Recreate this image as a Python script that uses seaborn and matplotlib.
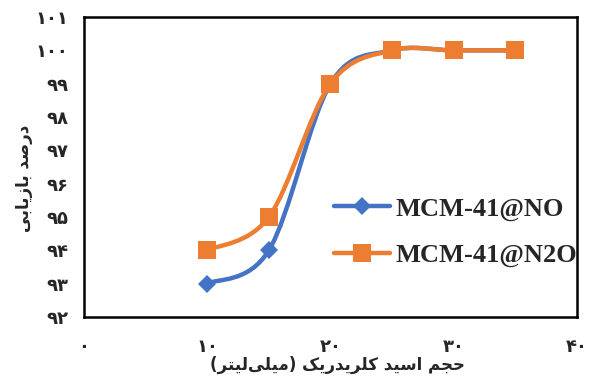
import numpy as np
import pandas as pd
import matplotlib
matplotlib.use("Agg")
import matplotlib.pyplot as plt
from matplotlib.path import Path
from matplotlib.patches import PathPatch
from matplotlib.lines import Line2D
import seaborn as sns

# ---- data -------------------------------------------------------------
volume = [10, 15, 20, 25, 30, 35]
recovery_no = [93, 94, 99, 100, 100, 100]
recovery_n2o = [94, 95, 99, 100, 100, 100]
series_names = ["MCM-41@NO", "MCM-41@N2O"]
x_ticks = [0, 10, 20, 30, 40]
y_ticks = [92, 93, 94, 95, 96, 97, 98, 99, 100, 101]
x_label = "حجم اسید کلریدریک (میلی‌لیتر)"
y_label = "درصد بازیابی"

colors = ["#4472C4", "#ED7D31"]

# ---- minimal Persian shaping (matplotlib has no RTL / joining support) --
FORMS = {  # isolated, final, initial, medial
    "ا": ("\uFE8D", "\uFE8E", None, None),
    "د": ("\uFEA9", "\uFEAA", None, None),
    "ر": ("\uFEAD", "\uFEAE", None, None),
    "ز": ("\uFEAF", "\uFEB0", None, None),
    "ب": ("\uFE8F", "\uFE90", "\uFE91", "\uFE92"),
    "ت": ("\uFE95", "\uFE96", "\uFE97", "\uFE98"),
    "ج": ("\uFE9D", "\uFE9E", "\uFE9F", "\uFEA0"),
    "ح": ("\uFEA1", "\uFEA2", "\uFEA3", "\uFEA4"),
    "س": ("\uFEB1", "\uFEB2", "\uFEB3", "\uFEB4"),
    "ص": ("\uFEB9", "\uFEBA", "\uFEBB", "\uFEBC"),
    "ل": ("\uFEDD", "\uFEDE", "\uFEDF", "\uFEE0"),
    "م": ("\uFEE1", "\uFEE2", "\uFEE3", "\uFEE4"),
    "ی": ("\uFBFC", "\uFBFD", "\uFBFE", "\uFBFF"),
    "ک": ("\uFB8E", "\uFB8F", "\uFB90", "\uFB91"),
}
MIRROR = {"(": ")", ")": "("}


def shape_fa(text):
    out = []
    n = len(text)
    for i, ch in enumerate(text):
        if ch not in FORMS:
            if ch != "\u200c":
                out.append(ch)
            continue
        iso, fin, ini, med = FORMS[ch]
        prev = text[i - 1] if i > 0 else ""
        nxt = text[i + 1] if i < n - 1 else ""
        join_prev = prev in FORMS and FORMS[prev][2] is not None
        join_next = ini is not None and nxt in FORMS
        if join_prev and join_next:
            out.append(med)
        elif join_prev:
            out.append(fin)
        elif join_next:
            out.append(ini)
        else:
            out.append(iso)
    return "".join(MIRROR.get(c, c) for c in reversed(out))


FA_DIGITS = str.maketrans("0123456789", "۰۱۲۳۴۵۶۷۸۹")


def fa_num(v):
    return str(v).translate(FA_DIGITS)


# ---- smooth curve (Catmull-Rom as cubic Bezier) -------------------------
def smooth_path(xs, ys):
    pts = np.column_stack([xs, ys]).astype(float)
    verts = [pts[0]]
    codes = [Path.MOVETO]
    for i in range(len(pts) - 1):
        p0 = pts[i - 1] if i > 0 else pts[i]
        p1, p2 = pts[i], pts[i + 1]
        p3 = pts[i + 2] if i + 2 < len(pts) else pts[i + 1]
        c1 = p1 + (p2 - p0) / 6.0
        c2 = p2 - (p3 - p1) / 6.0
        verts += [c1, c2, p2]
        codes += [Path.CURVE4] * 3
    return Path(verts, codes)


# ---- figure ------------------------------------------------------------
sns.set_theme(style="white")
plt.rcParams["font.family"] = ["DejaVu Sans"]

fig = plt.figure(figsize=(5.97, 3.78), dpi=100)
ax = fig.add_axes([0.1407, 0.1614, 0.8258, 0.7936])

df = pd.DataFrame({
    "volume": volume * 2,
    "recovery": recovery_no + recovery_n2o,
    "series": [series_names[0]] * len(volume) + [series_names[1]] * len(volume),
})

markers = ["D", "s"]
msizes = [9, 13]
for name, col, mk, ms in zip(series_names, colors, markers, msizes):
    sub = df[df["series"] == name]
    ax.add_patch(PathPatch(smooth_path(sub["volume"], sub["recovery"]),
                           facecolor="none", edgecolor=col, lw=3.2,
                           capstyle="round", joinstyle="round", zorder=2))
    sns.lineplot(data=sub, x="volume", y="recovery", ax=ax, color=col,
                 linestyle="", marker=mk, markersize=ms, markeredgewidth=0,
                 legend=False, zorder=3)

ax.set_xlim(0, 40)
ax.set_ylim(92, 101)
ax.set_xticks(x_ticks)
ax.set_yticks(y_ticks)
ax.set_xticklabels([fa_num(v) for v in x_ticks], fontsize=13, fontweight="bold")
ax.set_yticklabels([fa_num(v) for v in y_ticks], fontsize=13, fontweight="bold")
ax.tick_params(axis="both", direction="out", length=5, width=1.5, color="black")
ax.tick_params(axis="x", pad=10)
ax.tick_params(axis="y", pad=6)

for sp in ax.spines.values():
    sp.set_visible(True)
    sp.set_color("black")
    sp.set_linewidth(1.8)

ax.set_xlabel(shape_fa(x_label), fontsize=12, fontweight="bold", va="center")
ax.set_ylabel(shape_fa(y_label), fontsize=12, fontweight="bold", va="center")
ax.xaxis.set_label_coords(0.515, -0.16)
ax.yaxis.set_label_coords(-0.122, 0.463)

handles = [
    Line2D([], [], color=colors[0], lw=3.2, marker="D", markersize=9,
           markeredgewidth=0, solid_capstyle="round"),
    Line2D([], [], color=colors[1], lw=3.2, marker="s", markersize=13,
           markeredgewidth=0, solid_capstyle="round"),
]
ax.legend(handles, series_names, loc="center left",
          bbox_to_anchor=(0.485, 0.283), frameon=False, handlelength=2.15,
          handletextpad=0.2, labelspacing=0.85, borderaxespad=0,
          prop={"family": "Liberation Serif", "weight": "bold", "size": 19})

fig.savefig("out.png", dpi=100)
